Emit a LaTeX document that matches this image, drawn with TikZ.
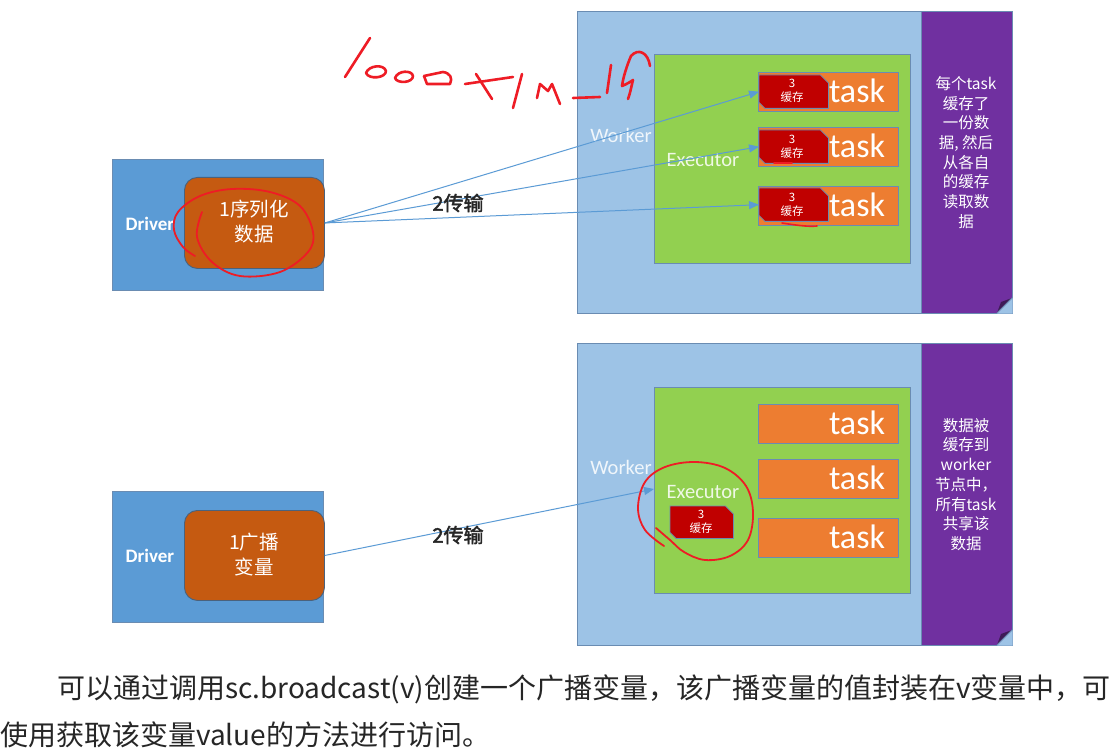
\documentclass[tikz,border=0pt]{standalone}
\usepackage{fontspec}
\setmainfont{Carlito}
\newfontfamily\cjk[AutoFakeBold=2]{Noto Sans CJK SC}
\usetikzlibrary{arrows.meta}
\definecolor{drvblue}{HTML}{5B9BD5}
\definecolor{wrkblue}{HTML}{9DC3E6}
\definecolor{edgeblue}{HTML}{6A8CB2}
\definecolor{purp}{HTML}{7030A0}
\definecolor{exegreen}{HTML}{92D050}
\definecolor{taskorange}{HTML}{ED7D31}
\definecolor{darkorange}{HTML}{C55A11}
\definecolor{cachered}{HTML}{C00000}
\definecolor{inkred}{HTML}{EE1C25}
\definecolor{labelgrey}{HTML}{262626}
\tikzset{
  box/.style={draw=edgeblue, line width=0.9pt, inner sep=0pt, anchor=north west},
  drvbox/.style={box, fill=drvblue, minimum width=211pt, minimum height=131pt},
  databox/.style={box, fill=darkorange, draw=edgeblue!70!black, rounded corners=13pt, minimum width=140pt, minimum height=91pt},
  wrkbox/.style={box, fill=wrkblue, minimum width=435pt, minimum height=302pt},
  purbox/.style={box, fill=purp, minimum width=91pt, minimum height=302pt},
  exebox/.style={box, fill=exegreen, minimum width=256pt},
  taskbox/.style={box, fill=taskorange, minimum width=140pt, minimum height=39pt},
  cachebox/.style={inner sep=0pt, anchor=north west},
  tasktxt/.style={font=\fontsize{34}{34}\selectfont, text=white, inner sep=0pt},
  cachetxt/.style={font=\cjk\fontsize{11.5}{14.5}\selectfont, text=white, align=center, inner sep=0pt},
  lbl/.style={font=\fontsize{20.5}{20}\selectfont, inner sep=0pt},
  drvtxt/.style={font=\bfseries\fontsize{19}{19}\selectfont, text=white, inner sep=0pt},
  datatxt/.style={font=\cjk\fontsize{19.5}{25}\selectfont, text=white, align=center, inner sep=0pt},
  notetxt/.style={font=\cjk\fontsize{15.5}{19.7}\selectfont, text=white, align=center, inner sep=0pt, anchor=north},
  xfer/.style={draw=drvblue, line width=1pt, -{Triangle[length=10pt,width=8pt]}},
  xferlbl/.style={font=\cjk\bfseries\fontsize{20}{20}\selectfont, text=labelgrey, inner sep=0pt},
  hand/.style={draw=inkred, line width=2.6pt, line cap=round, line join=round},
  thin/.style={draw=inkred, line width=1.6pt, line cap=round, line join=round},
  body/.style={font=\cjk\fontsize{28}{28}\selectfont, text=black!85, inner sep=0pt, anchor=base west}
}
\newcommand{\cachefill}[1]{%
  \fill[cachered] (#1.north west) -- ([xshift=-8pt]#1.north east) -- ([yshift=-8pt]#1.north east)
     -- (#1.south east) -- ([xshift=6pt]#1.south west) -- ([yshift=6pt]#1.south west) -- cycle;
  \draw[edgeblue, line width=0.8pt] (#1.north west) -- ([xshift=-8pt]#1.north east) -- ([yshift=-8pt]#1.north east)
     -- (#1.south east) -- ([xshift=6pt]#1.south west) -- ([yshift=6pt]#1.south west) -- cycle;}
\newcommand{\foldcorner}[2]{%
  \fill[wrkblue] (#1+0.5,#2+0.5) -- (#1-15,#2+0.5) -- (#1+0.5,#2-15) -- cycle;
  \fill[purp!55!black] (#1-15,#2) -- (#1,#2-15) -- (#1-11,#2-11) -- cycle;
  \draw[edgeblue, line width=0.8pt] (#1-15,#2) -- (#1,#2-15);}
\begin{document}
\begin{tikzpicture}[x=1pt,y=-1pt]
\useasboundingbox[fill=white] (0,0) rectangle (1115,751);

% ================= TOP DIAGRAM =================
\node[drvbox] (drv1) at (112,159) {};
\node[drvtxt] (drv1t) at (150,224) {Driver};
\node[databox] (ser1) at (184,177) {};
\node[datatxt] (ser1t) at (254,222) {1序列化\\数据};

\node[wrkbox] (wrk1) at (577,11) {};
\node[purbox] (pur1) at (921,11) {};
\foldcorner{1012}{313}
\node[lbl, text=white!85!wrkblue] (wrk1t) at (621,135) {Worker};
\node[exebox, minimum height=209pt] (exe1) at (654,54) {};
\node[lbl, text=white!85!exegreen] (exe1t) at (703,160) {Executor};

\node[taskbox] (t1) at (758,72) {};
\node[taskbox] (t2) at (758,127) {};
\node[taskbox] (t3) at (758,186) {};
\node[tasktxt] (t1t) at (857,91) {task};
\node[tasktxt] (t2t) at (857,146) {task};
\node[tasktxt] (t3t) at (857,205) {task};

\node[cachebox, minimum width=69pt, minimum height=33pt] (c1) at (759,75) {};
\node[cachebox, minimum width=69pt, minimum height=33pt] (c2) at (759,130) {};
\node[cachebox, minimum width=69pt, minimum height=33pt] (c3) at (759,188) {};
\cachefill{c1}\cachefill{c2}\cachefill{c3}
\node[cachetxt] (c1t) at (792,91) {3\\缓存};
\node[cachetxt] (c2t) at (792,147) {3\\缓存};
\node[cachetxt] (c3t) at (792,205) {3\\缓存};

\node[notetxt] (n1) at (966,76) {每个task\\缓存了\\一份数\\据, 然后\\从各自\\的缓存\\读取数\\据};

\draw[xfer] (ser1.east) -- (c1.west);
\draw[xfer] (ser1.east) -- (c2.west);
\draw[xfer] (ser1.east) -- (c3.west);
\node[xferlbl] (x1) at (458,203) {2传输};

% handwriting 1000x1M=1G
\draw[hand] (370,38) -- (345,77);
\draw[hand] (366,73) .. controls (369,65) and (384,64) .. (386,71) .. controls (386,78) and (369,80) .. (366,73);
\draw[hand] (395,78) .. controls (398,70) and (412,70) .. (413,76) .. controls (413,83) and (397,84) .. (395,78);
\draw[hand] (424,76) -- (427,84) -- (450,84) .. controls (453,78) and (450,73) .. (443,72) -- (424,76);
\draw[hand] (465,84) -- (513,77);
\draw[hand] (476,74) -- (492,99);
\draw[hand] (522,74) -- (513,108);
\draw[hand] (537,98) -- (540,84) -- (548,91) -- (552,84) -- (560,104);
\draw[hand] (573,98) -- (600,97);
\draw[hand] (611,65) -- (607,93);
\draw[hand] (650,66) .. controls (648,52) and (638,48) .. (631,56) .. controls (627,65) and (623,78) .. (622,86) .. controls (627,84) and (630,82) .. (633,80) .. controls (631,88) and (630,94) .. (628,99);

% red ellipse around data
\draw[hand, line width=1.8pt] plot[smooth, tension=0.6] coordinates {(202,212) (197,237) (212,262) (240,276) (280,272) (308,252) (313,232) (300,206) (270,192) (232,189) (200,196) (178,212) (174,230) (183,247) (195,256)};
% underlines
\draw[thin] (774,163) -- (792,163);
\draw[thin] (782,223) .. controls (795,225) and (808,227) .. (817,226);

% ================= BOTTOM DIAGRAM =================
\node[drvbox] (drv2) at (112,491) {};
\node[drvtxt] (drv2t) at (150,556) {Driver};
\node[databox, minimum height=90pt] (bc2) at (184,510) {};
\node[datatxt] (bc2t) at (254,555) {1广播\\变量};

\node[wrkbox] (wrk2) at (577,343) {};
\node[purbox] (pur2) at (921,343) {};
\foldcorner{1012}{645}
\node[lbl, text=white!85!wrkblue] (wrk2t) at (621,467) {Worker};
\node[exebox, minimum height=206pt] (exe2) at (654,387) {};
\node[lbl, text=white!85!exegreen] (exe2t) at (703,492) {Executor};

\node[taskbox] (t4) at (758,404) {};
\node[taskbox] (t5) at (758,459) {};
\node[taskbox] (t6) at (758,518) {};
\node[tasktxt] (t4t) at (857,423) {task};
\node[tasktxt] (t5t) at (857,478) {task};
\node[tasktxt] (t6t) at (857,537) {task};

\node[cachebox, minimum width=63pt, minimum height=32pt] (c4) at (670,506) {};
\cachefill{c4}
\node[cachetxt] (c4t) at (701,522) {3\\缓存};

\node[notetxt] (n2) at (966,418) {数据被\\缓存到\\worker\\节点中，\\所有task\\共享该\\数据};

\coordinate (a2end) at (654,489);
\draw[xfer] (bc2.east) -- (a2end);
\node[xferlbl] (x2) at (458,535) {2传输};

% red ellipse around executor
\draw[hand, line width=1.8pt] plot[smooth, tension=0.6] coordinates {(664,546) (645,530) (638,508) (645,482) (665,467) (695,462) (725,468) (746,486) (753,512) (748,540) (730,556) (705,560) (684,552) (670,540) (656,528)};

% ================= TEXT =================
\node[body] (p1) at (57,698) {可以通过调用sc.broadcast(v)创建一个广播变量，该广播变量的值封装在v变量中，可};
\node[body] (p2) at (0,745) {使用获取该变量value的方法进行访问。};
\end{tikzpicture}
\end{document}
